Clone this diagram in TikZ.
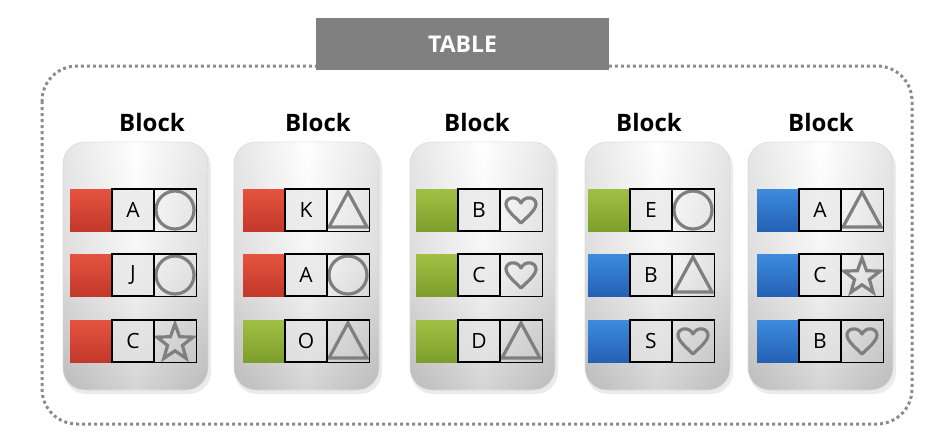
\documentclass[tikz,border=0pt]{standalone}
\usepackage{fontspec}
\setmainfont{Open Sans}
\usetikzlibrary{shapes.geometric}
\definecolor{redtop}{HTML}{E5533F}
\definecolor{redbot}{HTML}{C2382A}
\definecolor{greentop}{HTML}{A0C044}
\definecolor{greenbot}{HTML}{7E9E2C}
\definecolor{bluetop}{HTML}{3D8BDD}
\definecolor{bluebot}{HTML}{2461B5}
\definecolor{shpc}{HTML}{7F7F7F}
\definecolor{framec}{HTML}{8C8C8C}
\definecolor{titlec}{HTML}{808080}
\tikzset{
  frame/.style={draw=framec, line width=3pt, dash pattern=on 3pt off 3pt, rounded corners=35pt},
  titlebox/.style={fill=titlec, minimum width=293pt, minimum height=52pt, inner sep=0pt,
    text=white, font=\fontsize{23}{26}\selectfont\bfseries},
  blocklabel/.style={font=\fontsize{24}{28}\selectfont\bfseries, inner sep=0pt},
  cardshadow/.style={fill=black, fill opacity=0.08, rounded corners=22pt},
  card/.style={rounded corners=22pt, top color=white, bottom color=black!30, middle color=black!6, draw=black!12, line width=0.6pt},
  cardside/.style={rounded corners=22pt, left color=black!22, right color=black!22, middle color=white, fill opacity=0.45},
  sq/.style={minimum width=42pt, minimum height=42pt, inner sep=0pt},
  redsq/.style={sq, top color=redtop, bottom color=redbot},
  greensq/.style={sq, top color=greentop, bottom color=greenbot},
  bluesq/.style={sq, top color=bluetop, bottom color=bluebot},
  lbox/.style={sq, draw=black, line width=1.4pt, fill=black!10, fill opacity=0.6, text opacity=1,
    font=\fontsize{21}{24}\selectfont},
  shp/.style={draw=shpc, line width=3.2pt},
  circ/.pic={\draw[shp] (0,0) circle (19);},
  tri/.pic={\draw[shp, line join=miter] (0,-18) -- (-19,17) -- (19,17) -- cycle;},
  starshape/.pic={\draw[shp, line join=miter]
      (0,2)+(270:19) -- +(306:7.8) -- +(342:19) -- +(18:7.8) -- +(54:19) -- +(90:7.8)
      -- +(126:19) -- +(162:7.8) -- +(198:19) -- +(234:7.8) -- cycle;},
  heart/.pic={\draw[shp, line join=round] (0,13) .. controls (-6,7) and (-15,0) .. (-15,-6)
      .. controls (-15,-13) and (-4,-15) .. (0,-7)
      .. controls (4,-15) and (15,-13) .. (15,-6)
      .. controls (15,0) and (6,7) .. (0,13) -- cycle;},
}
\newcommand\cellrow[6]{%
  \node[#4sq] (#1c) at (#2+21,#3) {};
  \node[lbox] (#1l) at (#2+63,#3) {#5};
  \node[sq] (#1s) at (#2+105,#3) {};
  \pic at (#1s) {#6};
  \draw[black, line width=1.4pt] (#1s.north west) rectangle (#1s.south east);
}
\begin{document}
\begin{tikzpicture}[x=1pt,y=-1pt]
\useasboundingbox (0,0) rectangle (928,442);
\fill[white] (0,0) rectangle (928,442);
\draw[frame] (42,66) rectangle (912,424);
\node[titlebox] (title) at (462.5,44) {TABLE};
\foreach \cx/\lx/\n in {63/152/1, 234/318/2, 410/477/3, 585/649/4, 748/821/5}{
  \fill[cardshadow] (\cx+1,145) rectangle (\cx+148,394);
  \path[card] (\cx,142) rectangle (\cx+145,390);
  \path[cardside] (\cx,142) rectangle (\cx+145,390);
  \node[blocklabel] (label\n) at (\lx,122) {Block};
}
% Block 1
\cellrow{ba}{70}{210}{red}{A}{circ}
\cellrow{bb}{70}{275}{red}{J}{circ}
\cellrow{bc}{70}{341}{red}{C}{starshape}
% Block 2
\cellrow{bd}{243}{210}{red}{K}{tri}
\cellrow{be}{243}{275}{red}{A}{circ}
\cellrow{bf}{243}{341}{green}{O}{tri}
% Block 3
\cellrow{bg}{416}{210}{green}{B}{heart}
\cellrow{bh}{416}{275}{green}{C}{heart}
\cellrow{bi}{416}{341}{green}{D}{tri}
% Block 4
\cellrow{bj}{588}{210}{green}{E}{circ}
\cellrow{bk}{588}{275}{blue}{B}{tri}
\cellrow{bl}{588}{341}{blue}{S}{heart}
% Block 5
\cellrow{bm}{757}{210}{blue}{A}{tri}
\cellrow{bn}{757}{275}{blue}{C}{starshape}
\cellrow{bo}{757}{341}{blue}{B}{heart}
\end{tikzpicture}
\end{document}
